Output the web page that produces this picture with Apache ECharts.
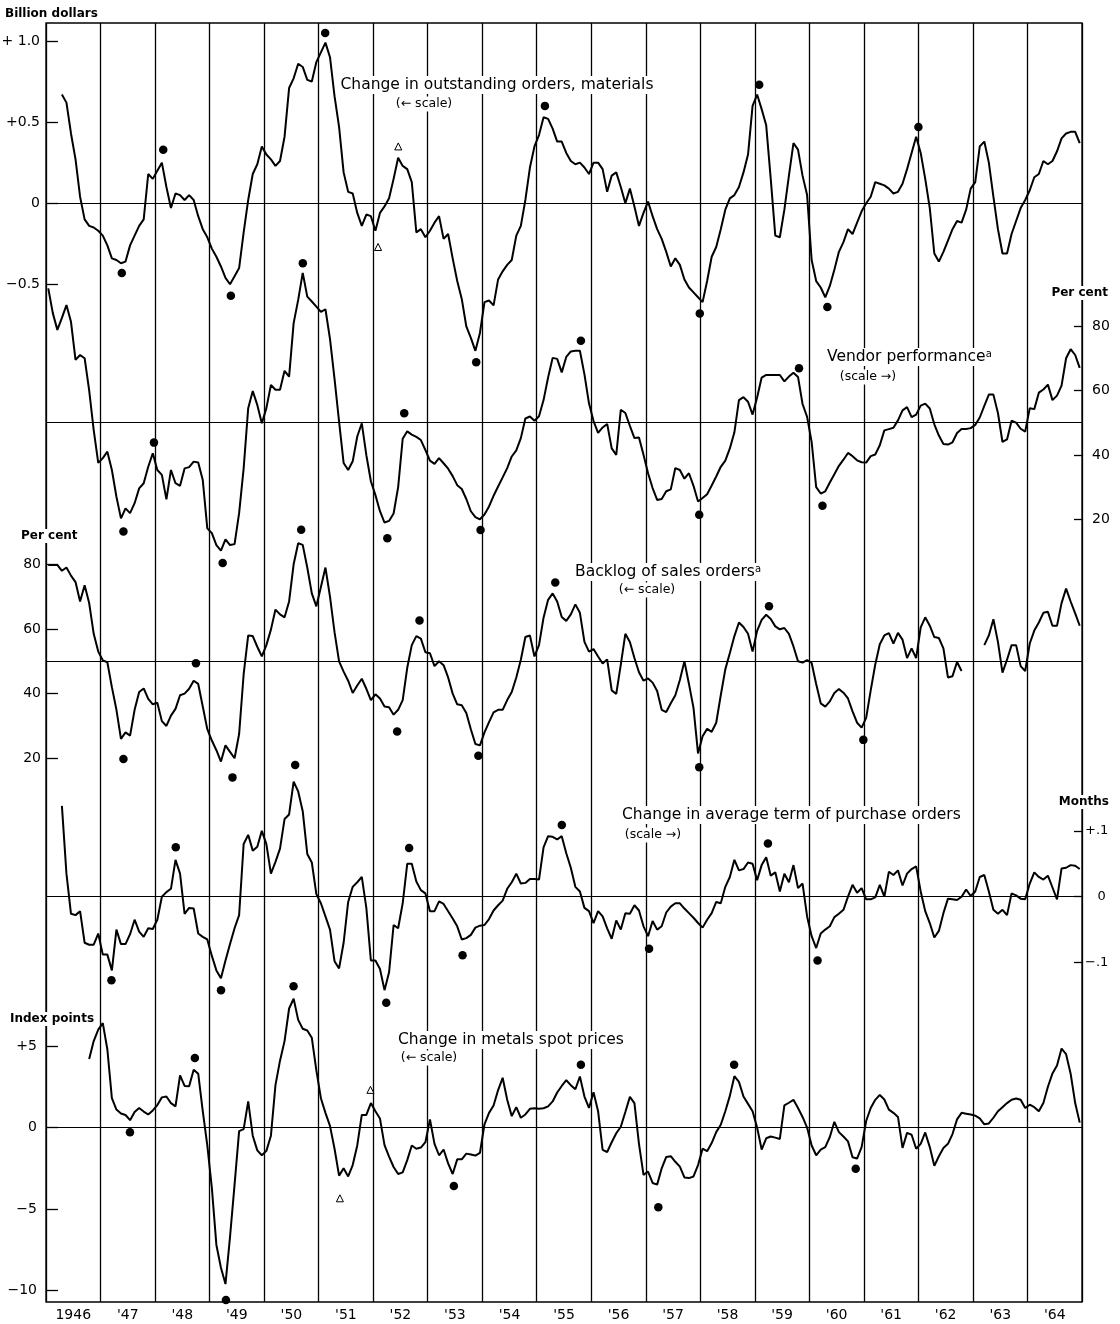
<!DOCTYPE html>
<html>
<head>
<meta charset="utf-8">
<script src="https://cdn.jsdelivr.net/npm/echarts@6/dist/echarts.min.js"></script>
<style>html,body{margin:0;padding:0;background:#fff}#c{width:1120px;height:1324px}</style>
</head>
<body>
<div id="c"></div>
<script>
// ---------- DATA (monthly values, first value at month index *Start, 0 = Jan 1946) ----------
const yearLabels = ['1946',"'47","'48","'49","'50","'51","'52","'53","'54","'55","'56","'57","'58","'59","'60","'61","'62","'63","'64"];

const ordersStart = 3;
const ordersChange = [
 0.67,0.62,0.43,0.27,0.04,-0.10,-0.14,-0.15,-0.17,
 -0.20,-0.26,-0.34,-0.35,-0.37,-0.36,-0.26,-0.20,-0.14,-0.10,0.18,0.15,
 0.20,0.25,0.10,-0.03,0.06,0.05,0.02,0.05,0.02,-0.08,-0.16,-0.21,
 -0.28,-0.33,-0.39,-0.46,-0.50,-0.45,-0.40,-0.18,0.02,0.18,0.24,0.35,
 0.30,0.27,0.23,0.26,0.41,0.71,0.77,0.86,0.84,0.76,0.75,0.87,
 0.93,0.99,0.90,0.66,0.47,0.19,0.07,0.06,-0.06,-0.14,-0.07,-0.08,
 -0.17,-0.06,-0.02,0.03,0.15,0.28,0.23,0.21,0.13,-0.18,-0.16,-0.21,
 -0.17,-0.12,-0.08,-0.22,-0.19,-0.34,-0.48,-0.59,-0.76,-0.83,-0.91,-0.80,
 -0.61,-0.60,-0.63,-0.47,-0.42,-0.38,-0.35,-0.20,-0.14,0.02,0.22,0.35,
 0.42,0.53,0.52,0.46,0.38,0.38,0.31,0.26,0.24,0.25,0.22,0.18,
 0.25,0.25,0.21,0.07,0.17,0.19,0.10,0.00,0.09,-0.02,-0.14,-0.06,
 0.01,-0.08,-0.16,-0.22,-0.30,-0.39,-0.34,-0.38,-0.47,-0.52,-0.55,-0.58,
 -0.61,-0.48,-0.33,-0.27,-0.16,-0.04,0.03,0.05,0.10,0.19,0.30,0.60,
 0.67,0.58,0.48,0.15,-0.20,-0.21,-0.04,0.17,0.37,0.33,0.17,0.05,
 -0.35,-0.48,-0.52,-0.58,-0.51,-0.41,-0.30,-0.24,-0.16,-0.19,-0.12,-0.05,
 0.00,0.04,0.13,0.12,0.11,0.09,0.06,0.07,0.12,0.21,0.31,0.41,
 0.31,0.15,-0.03,-0.31,-0.36,-0.30,-0.23,-0.16,-0.11,-0.12,-0.04,0.09,
 0.13,0.35,0.38,0.25,0.04,-0.16,-0.31,-0.31,-0.19,-0.11,-0.03,0.02,
 0.08,0.16,0.18,0.26,0.24,0.26,0.32,0.40,0.43,0.44,0.44,0.37
];
const ordersDots = [[1947.39,-0.43],[1948.15,0.33],[1949.39,-0.57],[1951.12,1.05],[1953.89,-0.98],[1955.15,0.60],[1957.99,-0.68],[1959.08,0.73],[1960.33,-0.64],[1962.00,0.47]];
const ordersTriangles = [[1952.09,-0.27],[1952.46,0.35]];

const vendorStart = 0;
const vendorPerf = [
 91.7,84.0,78.8,82.5,86.5,81.3,69.5,71.0,70.0,60.0,47.7,37.5,
 39.0,41.0,35.3,27.0,20.3,23.4,21.9,25.0,29.6,31.2,36.3,40.5,
 35.3,33.8,26.2,35.3,31.2,30.4,35.8,36.2,37.9,37.6,32.2,17.2,
 15.7,12.0,10.3,13.8,12.0,12.3,21.9,35.8,54.5,59.8,55.5,49.8,
 54.5,61.7,60.2,60.2,66.1,64.3,80.9,88.1,96.5,89.1,87.6,86.0,
 84.4,85.2,76.0,63.6,50.3,37.5,35.3,38.0,45.7,49.8,39.9,31.8,
 27.5,22.5,19.0,19.5,21.8,30.0,45.0,47.3,46.3,45.6,44.6,41.5,
 38.2,37.2,39.0,37.4,35.7,33.4,30.6,29.4,26.3,22.5,20.7,20.0,
 21.5,24.0,27.3,30.2,33.0,35.9,39.5,41.4,45.2,51.3,51.9,50.6,
 52.0,57.0,64.0,70.1,69.8,65.6,70.4,72.1,72.3,72.3,65.0,56.0,
 50.5,46.8,48.5,49.6,42.0,40.0,54.0,53.0,49.0,45.2,45.4,40.0,
 34.3,29.7,26.0,26.3,28.7,29.3,35.9,35.3,32.6,34.3,30.4,25.5,
 26.6,27.8,30.5,33.3,36.3,38.2,42.0,47.0,57.0,57.9,56.5,52.5,
 57.8,64.0,64.8,64.8,64.8,64.8,62.8,64.3,65.5,64.2,55.8,51.8,
 44.0,30.0,28.0,28.7,31.4,34.0,36.6,38.5,40.6,39.6,38.3,37.7,
 37.6,39.6,40.1,43.0,47.6,48.0,48.4,50.7,53.8,54.8,51.7,52.5,
 55.3,55.9,54.4,49.5,46.0,43.4,43.2,43.9,46.8,48.0,48.0,48.3,
 49.3,51.6,55.2,58.7,58.7,53.0,44.0,44.8,50.6,50.0,48.1,47.2,
 54.5,54.2,59.3,60.3,61.8,57.0,58.4,61.5,70.0,72.8,71.0,67.0
];
const vendorDots = [[1947.42,16.2],[1947.98,43.8],[1949.24,6.4],[1950.71,99.5],[1952.26,14.1],[1952.57,52.9],[1953.97,16.7],[1955.81,75.4],[1957.98,21.4],[1959.81,66.9],[1960.24,24.2]];

const backlogStart = 0;
const backlog = [
 79.8,79.8,79.8,78.0,79.0,76.5,74.5,68.5,73.5,68.0,58.5,53.0,
 50.3,49.7,42.0,35.0,26.0,28.0,27.0,35.0,40.5,41.6,38.4,36.7,
 37.2,31.5,30.0,33.2,35.3,39.5,40.0,41.5,44.0,43.0,36.0,29.0,
 25.5,22.5,19.0,24.0,22.0,20.0,27.5,46.0,58.0,57.8,54.5,51.5,
 55.0,59.8,66.0,64.5,63.6,68.5,80.0,86.5,86.0,79.0,71.0,67.0,
 73.0,79.0,70.0,59.0,50.0,46.8,44.0,40.2,42.5,44.6,41.5,38.0,
 39.8,38.5,36.0,35.8,33.5,35.0,38.0,48.0,55.0,57.8,57.0,52.8,
 52.5,48.5,50.0,48.8,45.0,40.0,36.7,36.4,34.0,29.0,24.4,24.0,
 28.0,31.2,34.2,35.0,35.0,38.0,40.5,45.0,50.5,57.5,58.0,51.5,
 55.0,63.5,69.0,71.0,68.5,63.7,62.5,64.5,67.6,65.0,56.0,53.0,
 53.8,51.5,49.3,50.6,41.0,39.9,49.0,58.5,56.0,51.0,46.6,44.0,
 44.7,43.4,40.8,35.0,34.3,37.0,39.5,44.2,50.0,43.0,35.6,21.5,
 26.8,29.1,28.2,31.0,39.5,47.5,52.6,57.8,62.0,60.6,58.5,53.0,
 59.4,62.8,64.4,63.1,60.8,59.9,60.3,58.5,54.6,50.0,49.6,50.4,
 49.5,43.0,37.0,36.0,37.6,40.2,41.4,40.3,38.5,34.5,31.0,29.5,
 32.5,41.0,49.0,55.3,58.0,58.7,55.5,58.8,56.7,51.0,54.0,51.0,
 60.5,63.6,61.0,57.5,57.2,54.0,45.0,45.4,49.8,47.0,null,null,
 null,null,55.0,58.0,63.0,56.0,46.5,50.5,55.0,55.0,48.5,47.0,
 55.5,59.5,62.0,65.0,65.3,61.0,61.0,68.0,72.5,68.5,64.8,61.0
];
const backlogDots = [[1947.42,19.8],[1948.75,49.4],[1949.42,14.1],[1950.68,90.7],[1952.44,28.3],[1952.85,62.6],[1953.93,20.8],[1955.34,74.4],[1957.98,17.2],[1959.26,67.0],[1960.99,25.7]];

const termStart = 3;
const termChange = [
 0.138,0.035,-0.026,-0.028,-0.022,-0.070,-0.073,-0.073,-0.056,
 -0.088,-0.088,-0.112,-0.050,-0.072,-0.072,-0.057,-0.035,-0.053,-0.061,-0.048,-0.049,
 -0.035,0.000,0.007,0.012,0.056,0.035,-0.026,-0.017,-0.018,-0.056,-0.061,-0.065,
 -0.090,-0.112,-0.124,-0.097,-0.072,-0.048,-0.028,0.080,0.094,0.070,0.076,0.100,
 0.080,0.035,0.053,0.073,0.118,0.125,0.175,0.160,0.130,0.065,0.052,0.004,
 -0.010,-0.030,-0.050,-0.098,-0.109,-0.070,-0.008,0.015,0.022,0.030,-0.017,-0.097,
 -0.097,-0.110,-0.142,-0.115,-0.043,-0.048,-0.010,0.050,0.050,0.023,0.010,0.005,
 -0.022,-0.022,-0.007,-0.011,-0.022,-0.033,-0.045,-0.065,-0.063,-0.058,-0.047,-0.044,
 -0.043,-0.034,-0.021,-0.013,-0.006,0.012,0.022,0.035,0.020,0.021,0.027,0.027,
 0.026,0.075,0.092,0.091,0.087,0.092,0.066,0.044,0.015,0.008,-0.017,-0.022,
 -0.040,-0.022,-0.030,-0.048,-0.064,-0.036,-0.050,-0.025,-0.026,-0.013,-0.021,-0.045,
 -0.060,-0.037,-0.050,-0.045,-0.024,-0.015,-0.010,-0.010,-0.018,-0.025,-0.032,-0.040,
 -0.047,-0.035,-0.025,-0.008,-0.010,0.015,0.030,0.056,0.040,0.042,0.052,0.050,
 0.025,0.048,0.060,0.032,0.037,0.008,0.035,0.022,0.048,0.013,0.020,-0.030,
 -0.060,-0.078,-0.056,-0.050,-0.045,-0.031,-0.026,-0.020,0.000,0.018,0.006,0.013,
 -0.004,-0.004,-0.001,0.018,0.000,0.038,0.033,0.040,0.017,0.035,0.042,0.046,
 0.008,-0.022,-0.040,-0.062,-0.052,-0.025,-0.003,-0.004,-0.005,0.000,0.011,0.001,
 0.008,0.030,0.033,0.008,-0.020,-0.026,-0.020,-0.028,0.005,0.002,-0.003,-0.004,
 0.020,0.037,0.030,0.026,0.032,0.014,-0.004,0.043,0.044,0.048,0.047,0.042
];
const termDots = [[1947.20,-0.127],[1948.38,0.075],[1949.21,-0.142],[1950.57,0.200],[1952.24,-0.161],[1952.66,0.074],[1953.64,-0.089],[1955.46,0.109],[1957.06,-0.079],[1959.24,0.081],[1960.15,-0.097]];

const metalsStart = 9;
const metalsChange = [
 4.2,5.3,6.0,
 6.4,4.8,1.8,1.1,0.86,0.77,0.45,0.95,1.2,0.98,0.8,1.05,
 1.38,1.85,1.9,1.5,1.3,3.2,2.55,2.53,3.55,3.3,1.0,-1.1,
 -3.7,-7.2,-8.6,-9.6,-6.7,-3.5,-0.22,-0.1,1.6,-0.5,-1.4,-1.7,
 -1.43,-0.5,2.6,4.1,5.3,7.3,7.9,6.6,6.06,5.95,5.5,3.5,
 1.8,0.9,0.1,-1.3,-2.95,-2.5,-3.0,-2.3,-1.1,0.77,0.77,1.5,
 1.0,0.55,-1.08,-1.78,-2.42,-2.85,-2.75,-2.0,-1.1,-1.3,-1.23,-0.9,
 0.5,-1.0,-1.7,-1.35,-2.2,-2.85,-1.95,-1.95,-1.6,-1.65,-1.72,-1.55,
 0.2,0.9,1.35,2.3,3.05,1.7,0.7,1.25,0.6,0.8,1.15,1.18,
 1.15,1.18,1.3,1.6,2.15,2.55,2.9,2.6,2.35,3.13,1.9,1.2,
 2.16,1.0,-1.37,-1.5,-0.9,-0.35,0.05,0.95,1.88,1.5,-1.0,-2.9,
 -2.7,-3.4,-3.5,-2.5,-1.8,-1.76,-2.1,-2.4,-3.06,-3.1,-3.0,-2.3,
 -1.3,-1.45,-0.95,-0.28,0.17,1.0,1.94,3.15,2.8,1.9,1.45,1.0,
 0.0,-1.35,-0.66,-0.55,-0.62,-0.7,1.36,1.52,1.7,1.2,0.65,0.0,
 -1.1,-1.7,-1.35,-1.2,-0.58,0.35,-0.28,-0.55,-0.85,-1.82,-1.9,-1.2,
 0.4,1.2,1.7,2.0,1.72,1.1,0.9,0.65,-1.25,-0.33,-0.44,-1.3,
 -1.0,-0.3,-1.2,-2.35,-1.76,-1.25,-1.0,-0.4,0.5,0.9,0.85,0.8,
 0.73,0.56,0.2,0.25,0.6,1.0,1.25,1.5,1.7,1.78,1.7,1.2,
 1.4,1.25,1.0,1.5,2.5,3.32,3.8,4.84,4.5,3.3,1.5,0.3
];
const metalsDots = [[1947.54,-0.29],[1948.73,4.27],[1949.30,-10.57],[1950.54,8.66],[1953.48,-3.59],[1955.81,3.85],[1957.23,-4.89],[1958.62,3.85],[1960.85,-2.53]];
const metalsTriangles = [[1951.39,-4.34],[1951.95,2.31]];

// tick labels
const ordersTicks = [-0.5, 0, 0.5, 1.0];
const ordersTickText = ['\u22120.5', '0', '+0.5', '+ 1.0'];
const vendorTicks = [20, 40, 60, 80];
const vendorTickText = ['20', '40', '60', '80'];
const backlogTicks = [20, 40, 60, 80];
const backlogTickText = ['20', '40', '60', '80'];
const termTicks = [-0.1, 0, 0.1];
const termTickText = ['\u2212.1', '   0', '+.1'];
const metalsTicks = [-10, -5, 0, 5];
const metalsTickText = ['\u221210', '\u22125', '0', '+5'];

// ---------- BUILD ----------
function monthly(start, arr) {
  return arr.map((v, i) => [1946 + (start + i + 0.5) / 12, v === null ? '-' : v]);
}
function tickFmt(ticks, texts) {
  return function (v) {
    const i = ticks.findIndex(t => Math.abs(t - v) < 1e-6);
    return i >= 0 ? texts[i] : '';
  };
}
const FONT = 'DejaVu Sans';
const L = 46, PW = 1036;
const panels = [
  {top: 41,    h: 243.3, min: -0.5, max: 1.0, iv: 0.5, pos: 'left',  ticks: ordersTicks,  text: ordersTickText,  margin: 6,  ref: 0,  data: monthly(ordersStart, ordersChange), dots: ordersDots, tri: ordersTriangles, fs: 14},
  {top: 326,   h: 193.3, min: 20,   max: 80,  iv: 20,  pos: 'right', ticks: vendorTicks,  text: vendorTickText,  margin: 10, ref: 50, data: monthly(vendorStart, vendorPerf),    dots: vendorDots, tri: [], fs: 14},
  {top: 564.3, h: 194,   min: 20,   max: 80,  iv: 20,  pos: 'left',  ticks: backlogTicks, text: backlogTickText, margin: 5,  ref: 50, data: monthly(backlogStart, backlog),      dots: backlogDots, tri: [], fs: 14},
  {top: 830.9, h: 131.6, min: -0.1, max: 0.1, iv: 0.1, pos: 'right', ticks: termTicks,    text: termTickText,    margin: 3,  ref: 0,  data: monthly(termStart, termChange),     dots: termDots, tri: [], fs: 13},
  {top: 1046,  h: 244.6, min: -10,  max: 5,   iv: 5,   pos: 'left',  ticks: metalsTicks,  text: metalsTickText,  margin: 9,  ref: 0,  data: monthly(metalsStart, metalsChange), dots: metalsDots, tri: metalsTriangles, fs: 14}
];

const grid = [{left: L, top: 23, width: PW, height: 1279, show: true, borderColor: '#000', borderWidth: 1.3, backgroundColor: 'transparent', outerBoundsMode: 'none'}];
const xAxis = [{
  gridIndex: 0, type: 'category', data: yearLabels, boundaryGap: true, position: 'bottom',
  axisLine: {show: false}, axisTick: {show: false},
  splitLine: {show: true, interval: 0, lineStyle: {color: '#000', width: 1.3}},
  axisLabel: {interval: 0, color: '#000', fontSize: 14, fontFamily: FONT, margin: 6}
}];
const yAxis = [{gridIndex: 0, type: 'value', show: false}];
const series = [];

panels.forEach((p, k) => {
  const gi = k + 1;
  grid.push({left: L, top: p.top, width: PW, height: p.h, outerBoundsMode: 'none'});
  xAxis.push({gridIndex: gi, type: 'value', min: 1946, max: 1965, show: false});
  yAxis.push({
    gridIndex: gi, type: 'value', min: p.min, max: p.max, interval: p.iv, position: p.pos,
    axisLine: {show: false},
    axisTick: {show: true, inside: true, length: p.pos === 'left' ? 12 : 8, lineStyle: {color: '#000', width: 1.3}},
    splitLine: {show: false},
    axisLabel: {color: '#000', fontSize: p.fs, fontFamily: FONT, margin: p.margin, formatter: tickFmt(p.ticks, p.text)}
  });
  series.push({
    type: 'line', xAxisIndex: gi, yAxisIndex: gi, data: p.data, symbol: 'none', showSymbol: false,
    lineStyle: {color: '#000', width: 2}, clip: false, connectNulls: false, z: 3,
    markLine: {silent: true, symbol: ['none', 'none'], label: {show: false}, animation: false,
      lineStyle: {color: '#000', width: 1.1, type: 'solid'}, data: [{yAxis: p.ref}]}
  });
  series.push({
    type: 'scatter', xAxisIndex: gi, yAxisIndex: gi, data: p.dots, symbol: 'circle', symbolSize: 8.5,
    itemStyle: {color: '#000', opacity: 1}, clip: false, z: 4
  });
  if (p.tri.length) {
    series.push({
      type: 'scatter', xAxisIndex: gi, yAxisIndex: gi, data: p.tri, symbol: 'triangle', symbolSize: 7,
      itemStyle: {color: '#fff', borderColor: '#000', borderWidth: 1, opacity: 1}, clip: false, z: 4
    });
  }
});

function txt(t, x, y, opt) {
  opt = opt || {};
  const style = {
    text: t, fill: '#000', fontFamily: FONT, fontSize: opt.size || 15.5, fontWeight: opt.weight || 'normal',
    align: opt.align || 'left', textAlign: opt.align || 'left', verticalAlign: 'middle', textVerticalAlign: 'middle'
  };
  if (opt.bg) { style.backgroundColor = '#fff'; style.padding = [1, 2, 1, 2]; }
  if (opt.rich) style.rich = opt.rich;
  return {type: 'text', x: x, y: y, z: 100, silent: true, style: style};
}
const sup = {s: {fontSize: 10, fontFamily: FONT, verticalAlign: 'top', fill: '#000'}};
const graphics = [
  txt('Billion dollars', 5, 14, {size: 12, weight: 'bold'}),
  txt('Change in outstanding orders, materials', 497, 85, {align: 'center', bg: true}),
  txt('(\u2190 scale)', 424, 104, {align: 'center', size: 12.5, bg: true}),
  txt('Per cent', 1110, 293, {align: 'right', size: 12, weight: 'bold', bg: true}),
  txt('Vendor performance{s|a}', 825, 357, {bg: true, rich: sup}),
  txt('(scale \u2192)', 868, 377, {align: 'center', size: 12.5, bg: true}),
  txt('Per cent', 19, 536, {size: 12, weight: 'bold', bg: true}),
  txt('Backlog of sales orders{s|a}', 573, 572, {bg: true, rich: sup}),
  txt('(\u2190 scale)', 647, 590, {align: 'center', size: 12.5, bg: true}),
  txt('Change in average term of purchase orders', 620, 815, {bg: true}),
  txt('(scale \u2192)', 653, 835, {align: 'center', size: 12.5, bg: true}),
  txt('Months', 1111, 802, {align: 'right', size: 12, weight: 'bold', bg: true}),
  txt('Index points', 8, 1019, {size: 12, weight: 'bold', bg: true}),
  txt('Change in metals spot prices', 396, 1040, {bg: true}),
  txt('(\u2190 scale)', 429, 1058, {align: 'center', size: 12.5, bg: true})
];

const chart = echarts.init(document.getElementById('c'), null, {renderer: 'canvas'});
chart.setOption({
  animation: false,
  backgroundColor: '#fff',
  grid: grid, xAxis: xAxis, yAxis: yAxis, series: series, graphic: graphics
});
</script>
</body>
</html>
